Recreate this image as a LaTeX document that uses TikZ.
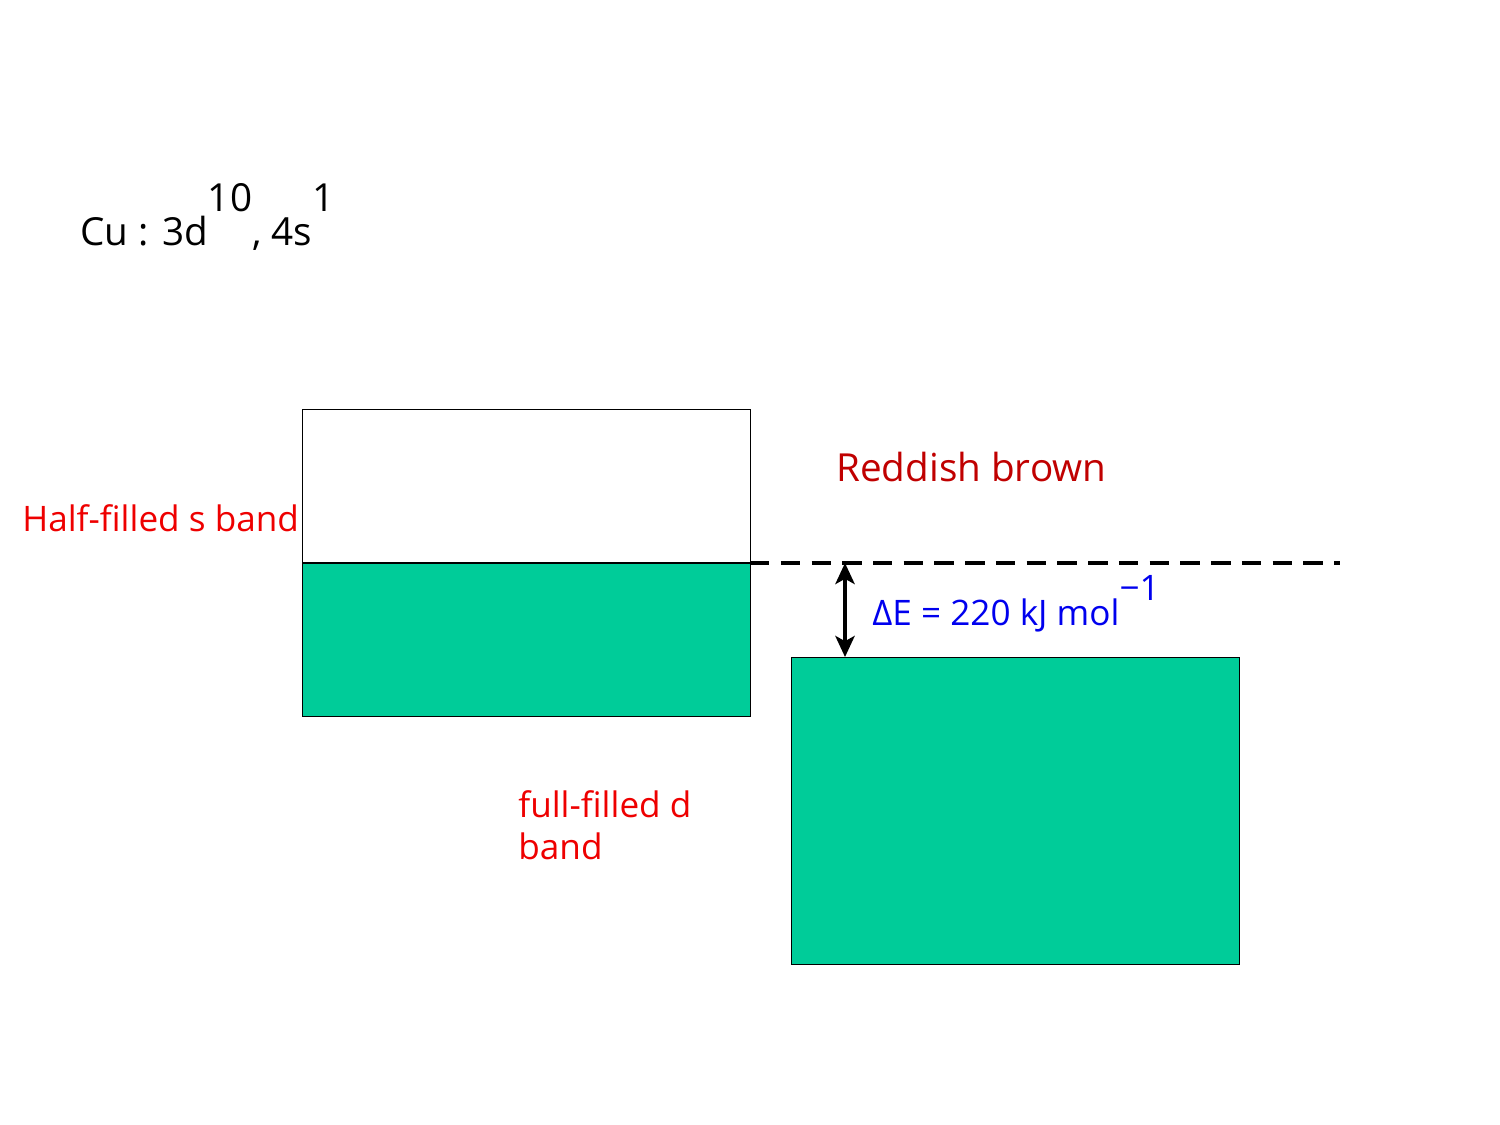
\documentclass[tikz,border=0pt]{standalone}
\usepackage{fontspec}
\setmainfont{Open Sans}
\usetikzlibrary{arrows.meta}
\definecolor{bandgreen}{HTML}{00CC99}
\definecolor{lblred}{HTML}{EE0000}
\definecolor{darkred}{HTML}{C00000}
\definecolor{lblblue}{HTML}{0000EE}
\tikzset{
  band/.style={draw=black, line width=0.6pt},
  lbl/.style={inner sep=0pt, anchor=base west, font=\fontsize{20}{24}\selectfont},
}
\begin{document}
\begin{tikzpicture}[x=0.02cm, y=-0.02cm]
\useasboundingbox (0,0) rectangle (1500,1125);
% upper band
\path[fill=bandgreen] (302,563) rectangle (750,716);
\node[band, minimum width=448*0.02cm, minimum height=307*0.02cm, inner sep=0pt, anchor=north west] (sband) at (302,409) {};
\coordinate (mid) at (750,563);
\draw[line width=0.6pt] (302,563) -- (mid);
% lower band
\node[band, fill=bandgreen, minimum width=448*0.02cm, minimum height=307*0.02cm, inner sep=0pt, anchor=north west] (dband) at (791,657) {};
% dashed line
\coordinate (dashend) at (1340,563);
\draw[line width=2.2pt, dash pattern=on 11pt off 6.5pt] (mid) -- (dashend);
% arrow
\coordinate (atop) at (845,563);
\coordinate (abot) at (845,657);
\draw[line width=2pt, {Stealth[length=12pt,width=11pt,inset=3pt]}-{Stealth[length=12pt,width=11pt,inset=3pt]}] (atop) -- (abot);
% labels
\node[lbl, font=\fontsize{22}{26}\selectfont] (cu) at (80,245) {Cu : 3d\raisebox{19pt}{10}, 4s\raisebox{19pt}{1}};
\node[lbl, text=lblred] (hs) at (22,531) {Half-filled s band};
\node[lbl, text=darkred, font=\fontsize{22}{26}\selectfont] (rb) at (836,481) {Reddish brown};
\node[lbl, text=lblblue] (de) at (872,625) {ΔE = 220 kJ mol\raisebox{14pt}{−1}};
\node[lbl, text=lblred, align=left, anchor=north west] (fd) at (518,790) {full-filled d\\band};
\end{tikzpicture}
\end{document}
